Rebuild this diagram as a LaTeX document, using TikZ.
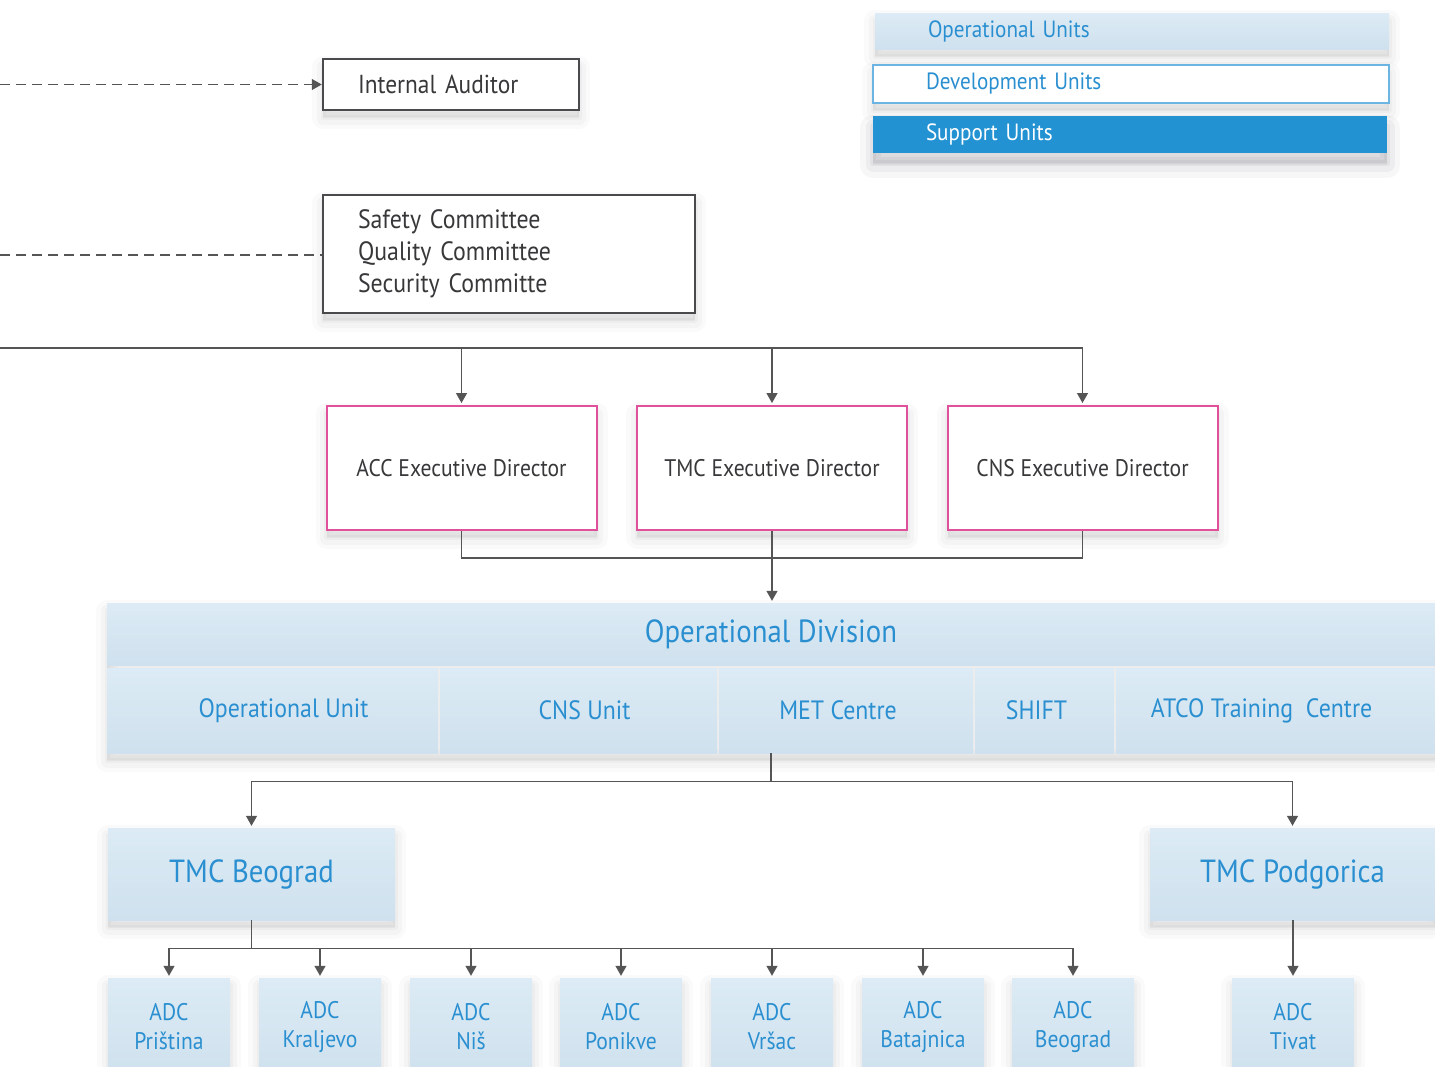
\documentclass[tikz,border=0pt]{standalone}
\usepackage{fontspec}
\setmainfont[FakeStretch=0.9]{PT Sans}
\usetikzlibrary{arrows.meta,calc}
\definecolor{ln}{HTML}{555555}
\definecolor{txt}{HTML}{38383A}
\definecolor{blu}{HTML}{2A8FD0}
\definecolor{pnk}{HTML}{E0519B}
\definecolor{gbd}{HTML}{4A4A4C}
\definecolor{lbtop}{HTML}{DCEBF5}
\definecolor{lbbot}{HTML}{CFE1EE}
\definecolor{devb}{HTML}{6CB4E2}
\definecolor{supf}{HTML}{2392D2}
\definecolor{shc}{HTML}{404050}
\tikzset{
  shd/.style={
    preaction={draw=shc,fill=shc,opacity=0.025,line width=22pt,line join=round,transform canvas={yshift=-8pt}},
    preaction={draw=shc,fill=shc,opacity=0.03,line width=13pt,line join=round,transform canvas={yshift=-8pt}},
    preaction={draw=shc,fill=shc,opacity=0.035,line width=5pt,line join=round,transform canvas={yshift=-7pt}}},
  bigshd/.style={
    preaction={draw=shc,fill=shc,opacity=0.04,line width=26pt,line join=round,transform canvas={yshift=-12pt}},
    preaction={draw=shc,fill=shc,opacity=0.05,line width=15pt,line join=round,transform canvas={yshift=-11pt}},
    preaction={draw=shc,fill=shc,opacity=0.06,line width=6pt,line join=round,transform canvas={yshift=-10pt}}},
  lbox/.style={draw=none,top color=lbtop,bottom color=lbbot,text=blu,inner sep=0pt},
  pinkbox/.style={shd,draw=pnk,line width=2pt,fill=white,text=txt,inner sep=0pt,minimum width=270pt,minimum height=124pt,font=\fontsize{24}{28}\selectfont},
  graybox/.style={shd,draw=gbd,line width=2.5pt,fill=white,text=txt,inner ysep=0pt,inner xsep=35pt,align=left,font=\fontsize{26.5}{32}\selectfont},
  legbox/.style={inner ysep=0pt,inner xsep=53pt,align=left,font=\fontsize{23.5}{26}\selectfont},
  unitbox/.style={lbox,minimum height=85pt,font=\fontsize{26.5}{30}\selectfont},
  adcbox/.style={shd,lbox,minimum width=122pt,minimum height=98pt,align=center,font=\fontsize{24}{29}\selectfont},
  tmcbox/.style={shd,lbox,minimum height=92pt,font=\fontsize{32}{36}\selectfont},
  conn/.style={draw=ln,line width=1.3pt},
  arr/.style={conn,-{Triangle[width=11pt,length=10pt]},shorten >=2pt},
  dline/.style={conn,dash pattern=on 10pt off 6pt}
}
\begin{document}
\begin{tikzpicture}[x=1pt,y=1pt]
\clip (0,0) rectangle (1435,-1066);
\fill[white] (0,0) rectangle (1435,-1066);

% legend
\node[shd,lbox,legbox,minimum width=514pt,minimum height=36pt,text width=408pt] (legop) at (1132,-31) {Operational Units};
\node[shd,draw=devb,line width=2pt,fill=white,text=blu,legbox,minimum width=516pt,minimum height=38pt,text width=410pt] (legdev) at (1131,-84) {Development Units};
\node[bigshd,fill=supf,text=white,legbox,minimum width=514pt,minimum height=37pt,text width=408pt] (legsup) at (1130,-134.5) {Support Units};

% top boxes
\node[graybox,minimum width=256pt,minimum height=51pt,text width=186pt,font=\fontsize{26}{32}\selectfont] (aud) at (451,-84.5) {Internal Auditor};
\node[graybox,minimum width=372pt,minimum height=118pt,text width=302pt] (comm) at (509,-254) {Safety Committee\\Quality Committee\\Security Committe};

\coordinate (dl1) at (0,-84.5);
\coordinate (dl2) at (0,-255);
\draw[dline,-{Triangle[width=11pt,length=10pt]}] (dl1) -- (aud.west);
\draw[dline] (dl2) -- (comm.west |- dl2);

% directors
\node[pinkbox] (acc) at (461.5,-468) {ACC Executive Director};
\node[pinkbox] (tmc) at (772,-468) {TMC Executive Director};
\node[pinkbox] (cns) at (1082.5,-468) {CNS Executive Director};

\coordinate (bus) at (0,-348);
\draw[conn] (bus) -- (bus -| cns.north);
\draw[arr] (acc.north |- bus) -- (acc.north);
\draw[arr] (tmc.north |- bus) -- (tmc.north);
\draw[arr] (cns.north |- bus) -- (cns.north);

% operational division
\path[shd] (107,-603) rectangle (1445,-753);
\node[lbox,minimum width=1328pt,minimum height=62pt,font=\fontsize{32}{36}\selectfont] (opdiv) at (771,-634) {\raisebox{-3pt}{Operational Division}};
\node[unitbox,minimum width=331pt] (u1) at (272.5,-710.5) {\hspace*{22pt}Operational Unit};
\node[unitbox,minimum width=277pt] (u2) at (578.5,-710.5) {\hspace*{12pt}CNS Unit};
\node[unitbox,minimum width=254pt] (u3) at (846,-710.5) {MET Centre\hspace*{16pt}};
\node[unitbox,minimum width=139pt] (u4) at (1044.5,-710.5) {SHIFT\hspace*{16pt}};
\node[unitbox,minimum width=319pt] (u5) at (1275.5,-710.5) {ATCO Training\ \ Centre\hspace*{28pt}};

\draw[conn] (acc.south) |- ($(tmc.south)+(0,-27)$) -| (cns.south);
\draw[arr] (tmc.south) -- (opdiv.north -| tmc.south);

% TMCs
\node[tmcbox,minimum width=287pt] (tmcb) at (251.5,-874) {TMC Beograd};
\node[tmcbox,minimum width=285pt] (tmcp) at (1292.5,-874) {TMC Podgorica};

\coordinate (ob) at (opdiv.center |- u3.south);
\coordinate (oj) at ($(ob)+(0,-28)$);
\draw[conn] (ob) -- (oj);
\draw[arr] (oj) -| (tmcb.north);
\draw[arr] (oj) -| (tmcp.north);

% ADCs
\node[adcbox] (a1) at (169,-1027) {ADC\\Priština};
\node[adcbox] (a2) at (320,-1027) {ADC\\Kraljevo};
\node[adcbox] (a3) at (471,-1027) {ADC\\Niš};
\node[adcbox] (a4) at (621,-1027) {ADC\\Ponikve};
\node[adcbox] (a5) at (772,-1027) {ADC\\Vršac};
\node[adcbox] (a6) at (923,-1027) {ADC\\Batajnica};
\node[adcbox] (a7) at (1073,-1027) {ADC\\Beograd};
\node[adcbox] (a8) at (1293,-1027) {ADC\\Tivat};

\coordinate (tb) at ($(tmcb.south)+(0,-28)$);
\draw[conn] (tmcb.south) -- (tb);
\draw[conn] (a1.north |- tb) -- (a7.north |- tb);
\foreach \n in {a1,a2,a3,a4,a5,a6,a7}{
  \draw[arr] (\n.north |- tb) -- (\n.north);
}
\draw[arr] (tmcp.south -| a8.north) -- (a8.north);
\end{tikzpicture}
\end{document}
